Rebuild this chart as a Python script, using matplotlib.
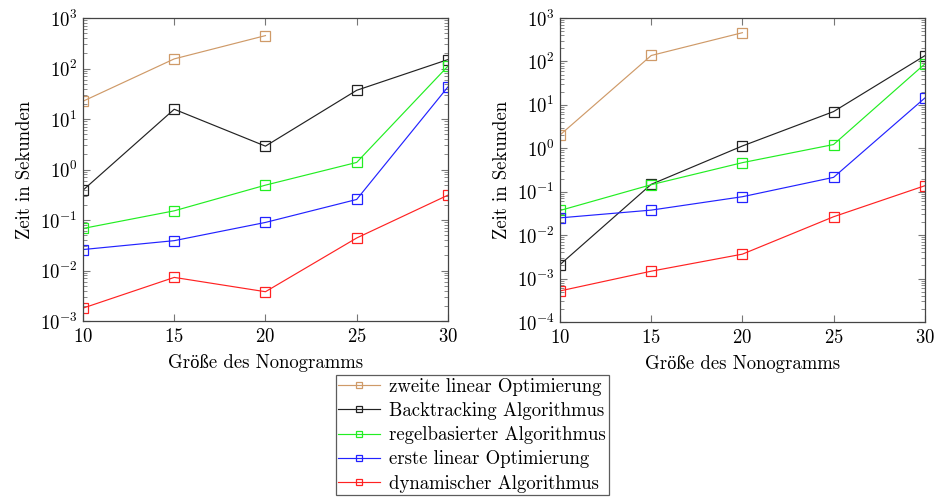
import matplotlib
matplotlib.use("Agg")
import matplotlib.pyplot as plt
from matplotlib.ticker import LogLocator, FixedLocator

plt.rcParams["font.family"] = ["cmr10", "Liberation Serif"]
plt.rcParams["mathtext.fontset"] = "cm"
plt.rcParams["axes.formatter.use_mathtext"] = True

sizes = [10, 15, 20, 25, 30]

series_names = [
    "zweite linear Optimierung",
    "Backtracking Algorithmus",
    "regelbasierter Algorithmus",
    "erste linear Optimierung",
    "dynamischer Algorithmus",
]
series_colors = ["#cf9a68", "#222222", "#22ee22", "#2222ff", "#ff2222"]

# left panel (seconds)
left_zweite = [22.5, 155, 448]
left_backtracking = [0.39, 15.6, 2.9, 37, 150]
left_regel = [0.068, 0.152, 0.49, 1.38, 111]
left_erste = [0.026, 0.039, 0.0895, 0.255, 43]
left_dynamisch = [0.0018, 0.0073, 0.0038, 0.044, 0.31]

# right panel (seconds)
right_zweite = [2.03, 137, 459]
right_backtracking = [0.0021, 0.148, 1.13, 7.0, 135]
right_regel = [0.037, 0.145, 0.467, 1.22, 87]
right_erste = [0.025, 0.0377, 0.0767, 0.214, 14.3]
right_dynamisch = [0.00052, 0.00148, 0.00365, 0.0265, 0.137]

left_data = [left_zweite, left_backtracking, left_regel, left_erste, left_dynamisch]
right_data = [right_zweite, right_backtracking, right_regel, right_erste, right_dynamisch]

fig = plt.figure(figsize=(9.35, 5.0), dpi=100)
ax1 = fig.add_axes([0.0888, 0.358, 0.3902, 0.606])
ax2 = fig.add_axes([0.599, 0.356, 0.390, 0.608])


def draw_panel(ax, data, ymin):
    for name, color, vals in zip(series_names, series_colors, data):
        ax.plot(sizes[:len(vals)], vals, color=color, lw=0.85, marker="s",
                markersize=6.5, markerfacecolor="none", markeredgewidth=0.9,
                label=name)
    ax.set_yscale("log")
    ax.set_xlim(10, 30)
    ax.set_ylim(ymin, 1e3)
    ax.xaxis.set_major_locator(FixedLocator(sizes))
    ax.yaxis.set_major_locator(LogLocator(base=10, numticks=20))
    ax.yaxis.set_minor_locator(LogLocator(base=10, subs=range(2, 10), numticks=20))
    ax.tick_params(which="both", direction="in", top=True, right=True,
                   color="#777777", labelsize=13.5)
    ax.tick_params(which="major", length=5, width=0.8)
    ax.tick_params(which="minor", length=3, width=0.6)
    ax.tick_params(axis="x", pad=5)
    ax.tick_params(axis="y", pad=4)
    for sp in ax.spines.values():
        sp.set_color("#444444")
        sp.set_linewidth(0.9)
    ax.set_xlabel("Größe des Nonogramms", fontsize=13.5, labelpad=6)
    ax.set_ylabel("Zeit in Sekunden", fontsize=13.5)


draw_panel(ax1, left_data, 1e-3)
draw_panel(ax2, right_data, 1e-4)

handles, labels = ax1.get_legend_handles_labels()
leg = fig.legend(handles, labels, loc="upper center", bbox_to_anchor=(0.505, 0.25),
                 fontsize=13.5, frameon=True, fancybox=False, edgecolor="#333333",
                 handlelength=2.2, handletextpad=0.5, borderpad=0.15, labelspacing=0.33,
                 borderaxespad=0.0, markerscale=0.6)
leg.get_frame().set_linewidth(0.9)

fig.savefig("out.png", dpi=100)
